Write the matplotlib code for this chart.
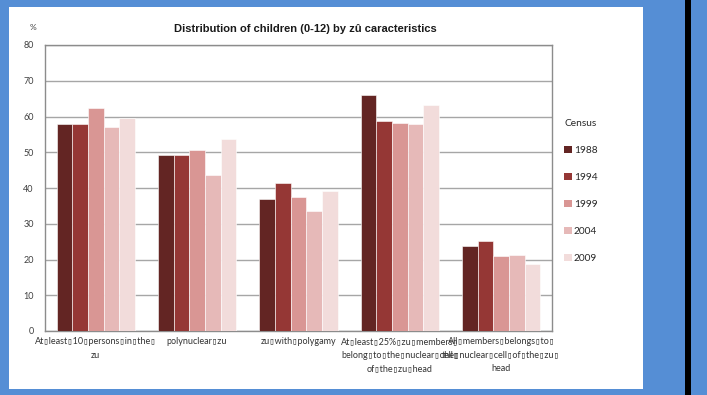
import matplotlib

matplotlib.use("Agg")
import matplotlib.pyplot as plt
from matplotlib.patches import Patch, Rectangle

plt.rcParams["font.family"] = ["Lato", "DejaVu Sans"]

BOX = "\u25af"

categories = [
    f"At{BOX}least{BOX}10{BOX}persons{BOX}in{BOX}the{BOX}\nzu",
    f"polynuclear{BOX}zu",
    f"zu{BOX}with{BOX}polygamy",
    f"At{BOX}least{BOX}25%{BOX}zu{BOX}members{BOX}\nbelong{BOX}to{BOX}the{BOX}nuclear{BOX}cell{BOX}\nof{BOX}the{BOX}zu{BOX}head",
    f"All{BOX}members{BOX}belongs{BOX}to{BOX}\nthe{BOX}nuclear{BOX}cell{BOX}of{BOX}the{BOX}zu{BOX}\nhead",
]
years = ["1988", "1994", "1999", "2004", "2009"]
values_1988 = [57.8, 49.3, 36.8, 65.9, 23.9]
values_1994 = [57.8, 49.3, 41.3, 58.7, 25.2]
values_1999 = [62.3, 50.6, 37.5, 58.3, 21.1]
values_2004 = [57.2, 43.5, 33.5, 57.8, 21.3]
values_2009 = [59.5, 53.7, 39.2, 63.1, 18.7]
series = [values_1988, values_1994, values_1999, values_2004, values_2009]
colors = ["#632523", "#953735", "#D99694", "#E6B9B8", "#F2DCDB"]

W, H = 707, 395
fig = plt.figure(figsize=(W / 100, H / 100), dpi=100)
fig.patch.set_facecolor("#558ED5")

# white slide panel and the dark divider on the right
fig.patches.append(
    Rectangle((9 / W, 1 - 389 / H), 634 / W, 382 / H, transform=fig.transFigure,
              facecolor="white", edgecolor="none", zorder=0)
)
fig.patches.append(
    Rectangle((685 / W, 0), 6 / W, 1, transform=fig.transFigure,
              facecolor="black", edgecolor="none", zorder=0)
)

ax = fig.add_axes([45 / W, 1 - 331 / H, 507 / W, 286 / H])
ax.set_zorder(2)
ax.set_facecolor("white")

bar_w = 0.154
n = len(series)
for i, (vals, col, yr) in enumerate(zip(series, colors, years)):
    xs = [k + (i - (n - 1) / 2) * bar_w for k in range(len(categories))]
    ax.bar(xs, vals, width=bar_w, color=col, edgecolor="white", linewidth=0.4,
           label=yr, zorder=3)

ax.set_xlim(-0.5, len(categories) - 0.5)
ax.set_ylim(0, 80)
ax.set_yticks(range(0, 81, 10))
ax.yaxis.grid(True, color="#A6A6A6", linewidth=1.0, zorder=0)
ax.set_axisbelow(True)
for s in ax.spines.values():
    s.set_color("#8C8C8C")
    s.set_linewidth(1.0)

ax.tick_params(axis="y", length=0, pad=8, labelsize=6.5, labelcolor="#404040")
ax.set_xticks(range(len(categories)))
ax.set_xticklabels(categories)
ax.tick_params(axis="x", length=0, pad=4.5, labelsize=6.5, labelcolor="#333333")
for lbl in ax.get_xticklabels():
    lbl.set_linespacing(1.65)
    # the box separators come from the monospaced face, which is narrower
    lbl.set_family(["Lato", "DejaVu Sans Mono"])

fig.text(30 / W, 1 - 28 / H, "%", fontsize=6, color="#404040", ha="left", va="center")
fig.text(305 / W, 1 - 29 / H, "Distribution of children (0-12) by zû caracteristics",
         fontsize=8, fontweight="bold", ha="center", va="center", color="#1a1a1a",
         family=["Liberation Sans Narrow", "Liberation Sans", "DejaVu Sans"])

handles = [Patch(facecolor=c, edgecolor="none") for c in colors]
leg = fig.legend(handles, years, title="Census", loc="upper left",
                 bbox_to_anchor=(560 / W, 1 - 115 / H), frameon=False,
                 fontsize=7.3, title_fontsize=7.3, handlelength=0.75,
                 handleheight=0.75, handletextpad=0.2, labelspacing=1.75,
                 borderaxespad=0)
leg._legend_box.align = "left"
leg.get_title().set_color("#262626")
for t in leg.get_texts():
    t.set_color("#262626")

fig.savefig("out.png", dpi=100, facecolor=fig.get_facecolor())
